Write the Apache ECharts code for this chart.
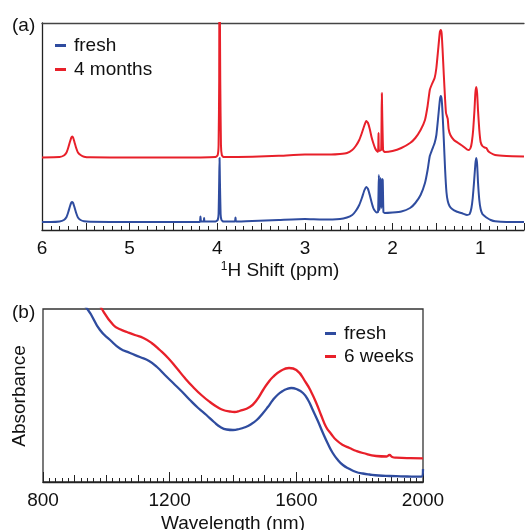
<!DOCTYPE html>
<html>
<head>
<meta charset="utf-8">
<script src="https://cdn.jsdelivr.net/npm/echarts@6/dist/echarts.min.js"></script>
<style>html,body{margin:0;padding:0;background:#fff;}#c{width:527px;height:530px;}</style>
</head>
<body>
<div id="c"></div>
<script>
// ---- Panel (a): 1H NMR, x in ppm, y in arbitrary intensity ----
const nmrFresh = [
  [6.0, 8], [5.9, 8], [5.8, 8.5], [5.75, 10], [5.72, 13], [5.70, 18], [5.68, 24], [5.665, 27.5], [5.655, 28],
  [5.645, 27], [5.63, 23], [5.61, 17], [5.59, 12.5], [5.56, 10], [5.52, 8.7], [5.45, 8.2], [5.0, 8], [4.6, 8],
  [4.3, 8], [4.2, 8], [4.192, 13.5], [4.185, 8.5], [4.155, 8.5], [4.15, 12], [4.145, 8.5], [4.02, 8.5],
  [3.995, 10], [3.985, 16], [3.978, 50], [3.974, 72], [3.97, 50], [3.962, 16], [3.952, 10], [3.93, 8.5],
  [3.80, 8.5], [3.792, 12.5], [3.785, 8.5], [3.6, 9], [3.3, 10], [3.0, 11], [2.8, 10.5], [2.6, 11],
  [2.52, 12.5], [2.46, 15], [2.42, 19], [2.38, 25], [2.35, 32], [2.32, 40], [2.30, 43], [2.28, 41], [2.26, 35],
  [2.24, 28], [2.22, 22], [2.20, 19], [2.18, 17.5], [2.165, 18], [2.156, 55], [2.148, 20], [2.138, 52],
  [2.128, 22], [2.12, 51], [2.112, 50], [2.104, 18], [2.09, 17], [2.0, 17.5], [1.9, 18.5], [1.8, 22],
  [1.74, 27], [1.68, 35], [1.63, 47], [1.60, 60], [1.575, 74], [1.55, 80], [1.52, 87], [1.50, 95], [1.48, 112],
  [1.46, 130], [1.45, 134], [1.44, 131], [1.43, 118], [1.415, 90], [1.40, 60], [1.385, 38], [1.37, 29],
  [1.35, 24], [1.32, 21], [1.27, 18.5], [1.2, 16.5], [1.15, 15], [1.12, 16], [1.10, 22], [1.085, 32],
  [1.07, 48], [1.055, 66], [1.045, 72], [1.035, 66], [1.025, 48], [1.01, 30], [0.995, 21], [0.975, 16],
  [0.95, 14], [0.92, 12], [0.88, 10], [0.83, 8.7], [0.7, 8], [0.5, 8]
];
const nmrAged = [
  [6.0, 72.5], [5.8, 73], [5.75, 74.5], [5.72, 77.5], [5.70, 82.5], [5.68, 88.5], [5.665, 92.5], [5.655, 93.5],
  [5.645, 92.5], [5.63, 88], [5.61, 82], [5.59, 77.5], [5.56, 75], [5.52, 73.3], [5.45, 72.7], [5.0, 72.5],
  [4.5, 72.5], [4.02, 73], [3.995, 75], [3.985, 85], [3.978, 150], [3.975, 300], [3.969, 300], [3.966, 150], [3.958, 85],
  [3.948, 75], [3.93, 73], [3.6, 73.3], [3.3, 74.2], [3.0, 75.5], [2.7, 75.5], [2.6, 76],
  [2.52, 77], [2.46, 80], [2.42, 84], [2.38, 90], [2.35, 97], [2.32, 105], [2.30, 109], [2.28, 107], [2.26, 101],
  [2.24, 93], [2.22, 87], [2.20, 82], [2.18, 79], [2.165, 78], [2.16, 97], [2.155, 79], [2.13, 80],
  [2.122, 137], [2.115, 137], [2.108, 80], [2.09, 78], [2.0, 79], [1.9, 82], [1.8, 87], [1.74, 92], [1.68, 100],
  [1.63, 110], [1.60, 124], [1.575, 140], [1.55, 146], [1.52, 152], [1.50, 162], [1.48, 180], [1.46, 198],
  [1.45, 200], [1.44, 197], [1.43, 182], [1.415, 155], [1.40, 130], [1.39, 117], [1.38, 114], [1.37, 111],
  [1.36, 101], [1.34, 95], [1.30, 90], [1.25, 87], [1.2, 84], [1.15, 80.5], [1.13, 80], [1.11, 82],
  [1.095, 88], [1.08, 100], [1.065, 120], [1.055, 137], [1.045, 143], [1.035, 137], [1.025, 120], [1.01, 100],
  [0.995, 88], [0.975, 84], [0.95, 82.5], [0.93, 82], [0.91, 79], [0.88, 77], [0.83, 75], [0.7, 74], [0.5, 73.5]
];
const nmrNames = ['fresh', '4 months'];

// ---- Panel (b): absorbance vs wavelength (nm) ----
const absFresh = [
  [900, 185], [940, 173], [980, 152], [1012, 142], [1043, 133.5], [1075, 129], [1106, 125], [1135, 121],
  [1160, 115], [1185, 107], [1211, 99], [1240, 90], [1264, 82], [1290, 74], [1316, 67], [1340, 60],
  [1360, 55], [1380, 52.5], [1400, 52], [1420, 53], [1440, 55], [1453, 57], [1475, 62], [1495, 69],
  [1510, 75], [1526, 82], [1542, 87.5], [1557, 91], [1570, 93], [1584, 94], [1600, 93], [1621, 89],
  [1637, 82], [1652, 72], [1668, 61], [1684, 49], [1700, 38], [1715, 29], [1730, 22.5], [1747, 17],
  [1768, 13], [1789, 10], [1810, 8.5], [1831, 7.5], [1860, 6.5], [1894, 6], [1930, 5.7], [1978, 5.3],
  [1995, 5.3], [2000, 13]
];
const absAged = [
  [950, 195], [986, 173], [1022, 157], [1045, 152.5], [1065, 150], [1090, 147], [1117, 144], [1143, 139],
  [1169, 132], [1195, 124], [1222, 114], [1248, 104], [1274, 95], [1300, 87], [1327, 80], [1350, 75],
  [1369, 72], [1390, 70.5], [1405, 70], [1420, 71], [1453, 75], [1475, 82], [1495, 92], [1510, 99],
  [1526, 105], [1550, 111], [1577, 114], [1600, 112], [1631, 99], [1647, 90], [1663, 79], [1678, 67],
  [1694, 55], [1710, 48], [1726, 42], [1747, 37], [1768, 34], [1790, 31], [1810, 29], [1852, 26],
  [1885, 25.5], [1894, 27], [1903, 25], [1915, 24.3], [1960, 23.8], [2000, 23.7]
];
const absNames = ['fresh', '6 weeks'];

const BLUE = '#2f4c9f';
const RED = '#e8202a';
const FONT = 'Liberation Sans, Arial, Helvetica, sans-serif';
const AX = '#222';

const chart = echarts.init(document.getElementById('c'), null, {renderer: 'canvas'});

const lineSeries = (name, data, color, xi, yi, w, sm) => ({
  name, type: 'line', data, xAxisIndex: xi, yAxisIndex: yi,
  showSymbol: false, symbol: 'none', clip: true, animation: false,
  smooth: sm,
  lineStyle: {color, width: w, join: 'round'}, itemStyle: {color}
});

chart.setOption({
  animation: false,
  textStyle: {fontFamily: FONT},
  grid: [
    {left: 42, top: 23, width: 485, height: 207, show: false},
    {left: 43, top: 309, width: 380, height: 173, show: true, borderColor: '#333', borderWidth: 1.3}
  ],
  legend: [
    {data: nmrNames, orient: 'vertical', left: 50, top: 31, itemWidth: 11, itemHeight: 3, itemGap: 5,
     icon: 'rect', textStyle: {fontSize: 19, color: '#111', fontFamily: FONT, padding: [0, 0, 0, 3]}},
    {data: absNames, orient: 'vertical', left: 320, top: 319, itemWidth: 11, itemHeight: 3, itemGap: 4,
     icon: 'rect', textStyle: {fontSize: 19, color: '#111', fontFamily: FONT, padding: [0, 0, 0, 3]}}
  ],
  xAxis: [
    {gridIndex: 0, type: 'value', inverse: true, min: 0.5, max: 6, interval: 0.5, position: 'bottom',
     axisLine: {show: true, onZero: false, lineStyle: {color: AX, width: 1.3}},
     axisTick: {show: true, inside: true, length: 7, lineStyle: {color: AX, width: 1}},
     minorTick: {show: true, splitNumber: 5, length: 4, lineStyle: {color: AX, width: 1}},
     splitLine: {show: false}, minorSplitLine: {show: false},
     axisLabel: {fontSize: 19, color: '#111', margin: 9, fontFamily: FONT,
                 formatter: v => (Math.abs(v - Math.round(v)) < 1e-6 ? String(Math.round(v)) : '')}},
    {gridIndex: 0, type: 'value', inverse: true, min: 0.5, max: 6, interval: 0.5, position: 'top',
     axisLine: {show: true, onZero: false, lineStyle: {color: '#444', width: 1.3}},
     axisTick: {show: false}, axisLabel: {show: false}, splitLine: {show: false}},
    {gridIndex: 1, type: 'value', min: 800, max: 2000, interval: 100, position: 'bottom',
     axisLine: {show: true, onZero: false, lineStyle: {color: AX, width: 1.3}},
     axisTick: {show: true, inside: true, length: 7, lineStyle: {color: AX, width: 1}},
     minorTick: {show: true, splitNumber: 5, length: 4, lineStyle: {color: AX, width: 1}},
     splitLine: {show: false}, minorSplitLine: {show: false},
     axisLabel: {fontSize: 19, color: '#111', margin: 9, fontFamily: FONT,
                 formatter: v => (v % 400 === 0 ? String(v) : '')}},
    {gridIndex: 1, type: 'value', min: 800, max: 2000, interval: 400, position: 'bottom', offset: 0,
     axisLine: {show: false, onZero: false},
     axisTick: {show: true, inside: true, length: 10, lineStyle: {color: AX, width: 1}},
     splitLine: {show: false}, axisLabel: {show: false}}
  ],
  yAxis: [
    {gridIndex: 0, type: 'value', min: 0, max: 207, position: 'left',
     axisLine: {show: true, onZero: false, lineStyle: {color: AX, width: 1.3}},
     axisTick: {show: false}, axisLabel: {show: false}, splitLine: {show: false}},
    {gridIndex: 1, type: 'value', min: 0, max: 173, show: false, splitLine: {show: false}}
  ],
  series: [
    lineSeries(nmrNames[0], nmrFresh, BLUE, 0, 0, 2, 0.15),
    lineSeries(nmrNames[1], nmrAged, RED, 0, 0, 2, 0.15),
    lineSeries(absNames[0], absFresh, BLUE, 2, 1, 2.3, 0.5),
    lineSeries(absNames[1], absAged, RED, 2, 1, 2.3, 0.5)
  ],
  graphic: [
    {type: 'text', left: 12, top: 16, style: {text: '(a)', fontSize: 19, fill: '#111', fontFamily: FONT}},
    {type: 'text', left: 12, top: 303, style: {text: '(b)', fontSize: 19, fill: '#111', fontFamily: FONT}},
    {type: 'text', x: 280, y: 271, style: {
      text: '{s|1}H Shift (ppm)', fontSize: 19, fill: '#111', fontFamily: FONT, align: 'center', verticalAlign: 'middle',
      rich: {s: {fontSize: 12, verticalAlign: 'top', padding: [0, 0, 9, 0], fontFamily: FONT}}}},
    {type: 'text', x: 233, y: 524, style: {
      text: 'Wavelength (nm)', fontSize: 19, fill: '#111', fontFamily: FONT, align: 'center', verticalAlign: 'middle'}},
    {type: 'text', x: 20, y: 396, rotation: Math.PI / 2, style: {
      text: 'Absorbance', fontSize: 19, fill: '#111', fontFamily: FONT, align: 'center', verticalAlign: 'middle'}}
  ]
});
</script>
</body>
</html>
